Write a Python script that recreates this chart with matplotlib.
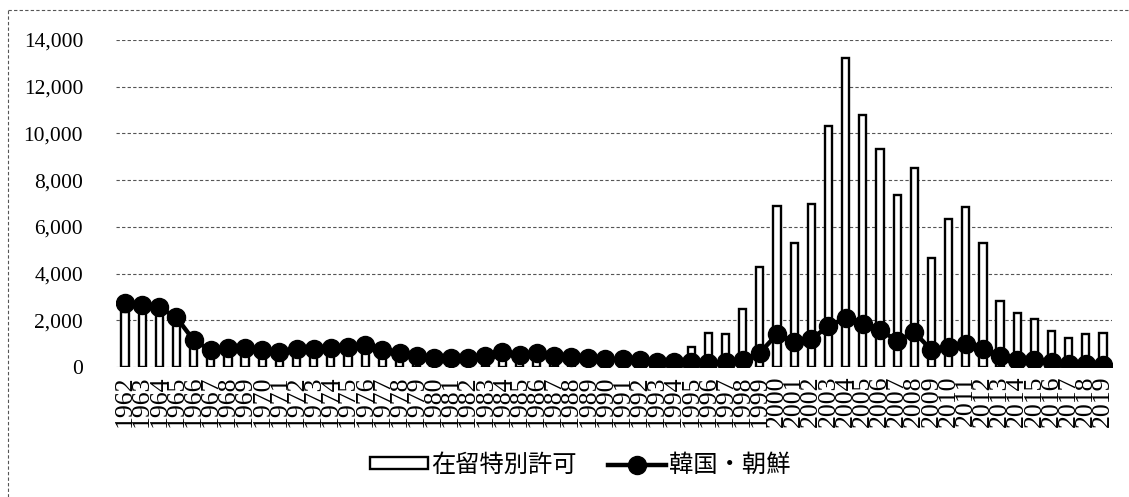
import matplotlib
matplotlib.use("Agg")
import matplotlib.pyplot as plt
from matplotlib.lines import Line2D
import numpy as np

plt.rcParams['font.family'] = ['Liberation Serif', 'Noto Sans CJK JP', 'DejaVu Sans']

# data
years = list(range(1962, 2020))
permits = [2370, 2300, 2230, 2010, 950, 450, 500, 550, 450, 400,
           550, 450, 500, 650, 700, 500, 350, 250, 200, 150,
           200, 250, 450, 250, 300, 150, 100, 100, 80, 80,
           80, 50, 60, 870, 1450, 1410, 2480, 4290, 6900, 5320,
           6980, 10320, 13240, 10810, 9330, 7360, 8500, 4650, 6330, 6840,
           5320, 2840, 2300, 2040, 1540, 1260, 1400, 1470]
korea = [2720, 2650, 2550, 2120, 1150, 720, 800, 820, 720, 650,
         780, 780, 800, 870, 940, 730, 590, 490, 400, 370,
         370, 480, 660, 510, 600, 460, 410, 380, 340, 340,
         310, 200, 230, 200, 170, 200, 300, 610, 1400, 1050,
         1200, 1750, 2100, 1850, 1580, 1130, 1480, 730, 850, 980,
         780, 480, 300, 280, 200, 120, 120, 100]
yticks = [0, 2000, 4000, 6000, 8000, 10000, 12000, 14000]

label_bar = "在留特別許可"
label_line = "韓国・朝鮮"

fig = plt.figure(figsize=(11.29, 4.97), dpi=100)
ax = fig.add_axes([0.1031, 0.2616, 0.8815, 0.6579])

x = np.arange(len(years))
bars = ax.bar(x, permits, width=0.42, color='white', edgecolor='black',
              linewidth=1.7, zorder=2, label=label_bar)
line, = ax.plot(x, korea, color='black', linewidth=3.2, marker='o', markersize=13,
                zorder=3, label=label_line)

ax.set_xlim(-0.5, len(years) - 0.5)
ax.set_ylim(0, 14000)
ax.set_yticks(yticks)
ax.set_yticklabels([f"{v:,}" for v in yticks], fontsize=15.5)
ax.set_xticks(x)
ax.set_xticklabels([str(y) for y in years], rotation=90, fontsize=18.5)
ax.tick_params(axis='y', length=0, pad=24)
ax.tick_params(axis='x', length=0, pad=6)

ax.grid(axis='y', color='#555555', linewidth=0.8, linestyle=(0, (3, 2)), zorder=0)
for s in ax.spines.values():
    s.set_visible(False)

# dashed frame of the chart area (left and top edges)
fig.add_artist(Line2D([8 / 1129, 8 / 1129], [0, 1 - 10 / 497], transform=fig.transFigure,
                      color='#555555', linewidth=0.8, linestyle=(0, (3, 2))))
fig.add_artist(Line2D([8 / 1129, 1], [1 - 10 / 497, 1 - 10 / 497], transform=fig.transFigure,
                      color='#555555', linewidth=0.8, linestyle=(0, (3, 2))))

fig.legend(handles=[bars, line], loc='center', bbox_to_anchor=(580 / 1129, 1 - 465 / 497),
           ncol=2, frameon=False, handlelength=2.4, handleheight=0.4,
           columnspacing=1.3, handletextpad=0.12,
           prop={'family': ['Noto Sans CJK JP', 'DejaVu Sans'], 'size': 17.5})

fig.savefig("out.png", dpi=100)
